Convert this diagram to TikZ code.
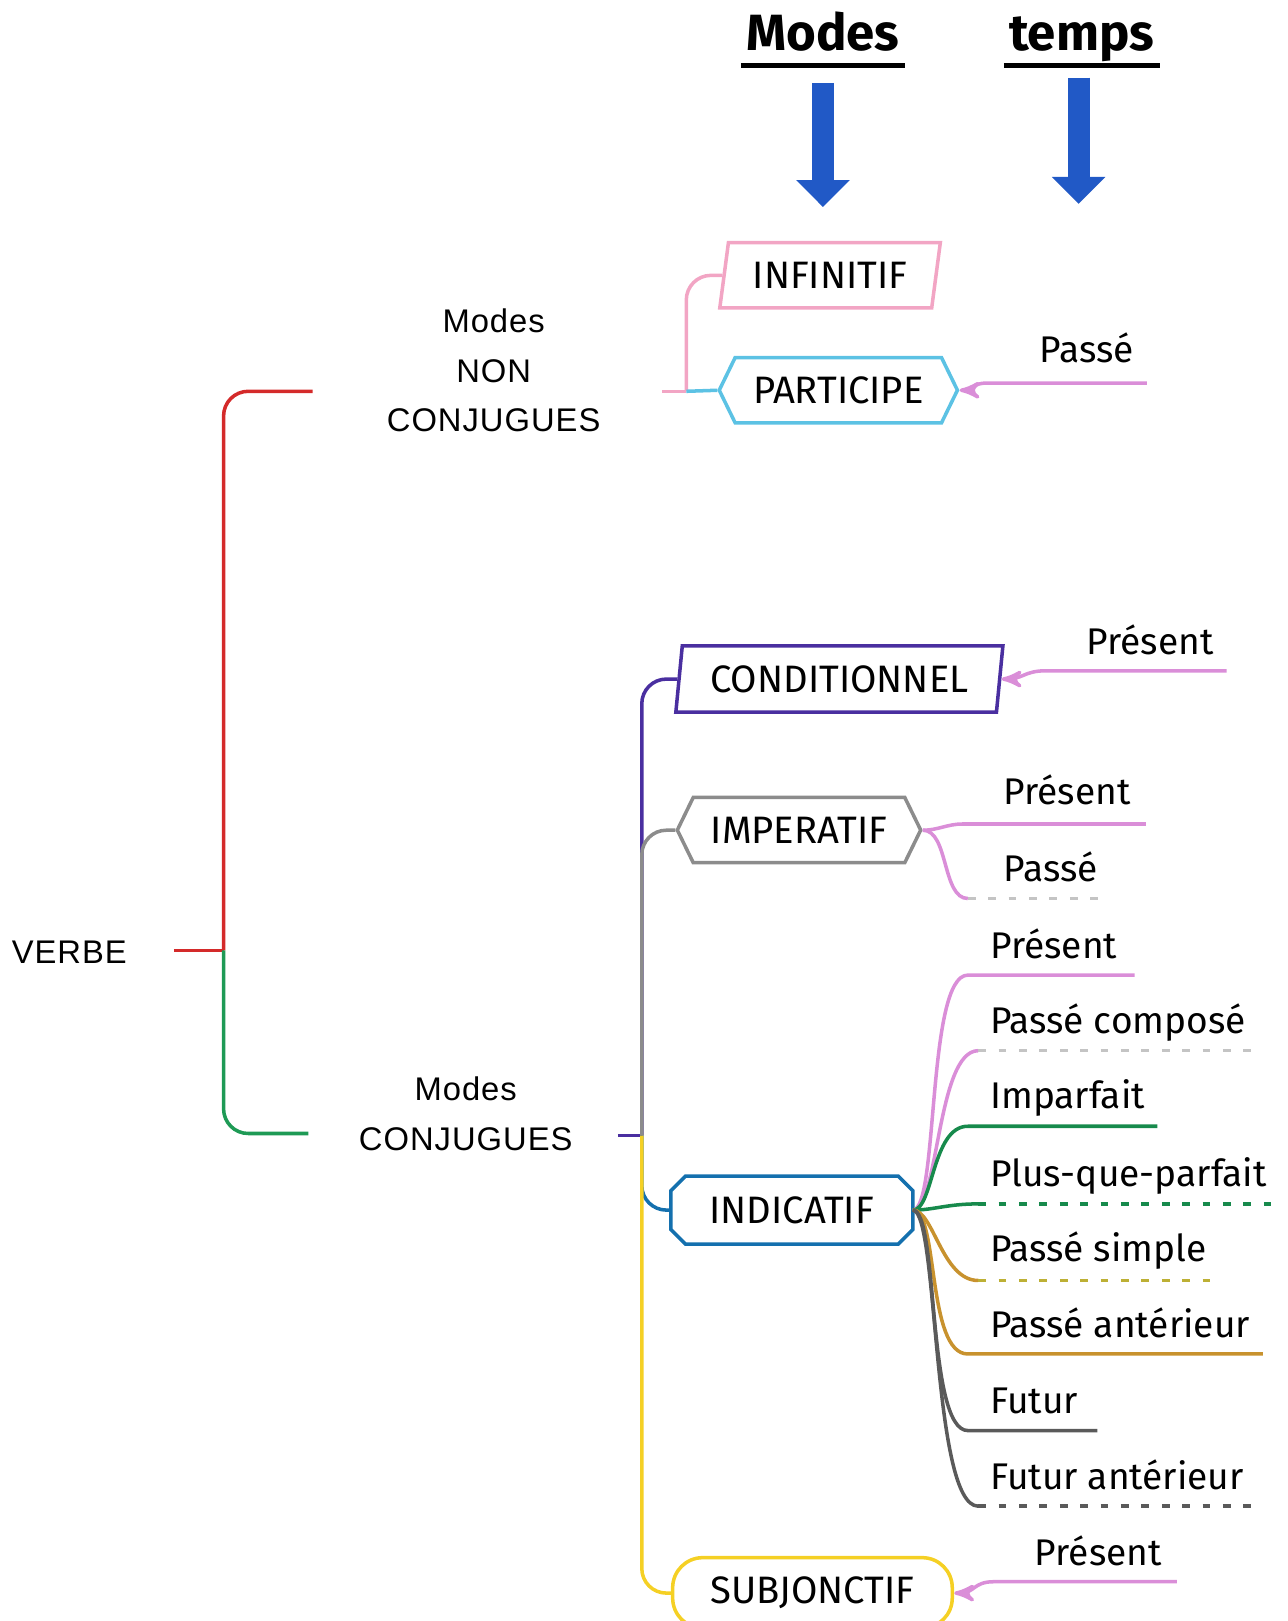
\documentclass[tikz,border=0pt]{standalone}
\usepackage{fontspec}
\setmainfont{Fira Sans}
\newfontfamily\arialfont[LetterSpace=3]{Liberation Sans}
\usetikzlibrary{positioning,shapes,arrows,arrows.meta,calc}

\definecolor{rouge}{HTML}{D42A2A}
\definecolor{vert}{HTML}{1E9A55}
\definecolor{rose}{HTML}{F2A5C4}
\definecolor{ciel}{HTML}{5CC2E4}
\definecolor{violet}{HTML}{4A2FA0}
\definecolor{gris}{HTML}{8C8C8C}
\definecolor{bleu}{HTML}{1470AE}
\definecolor{jaune}{HTML}{F5D024}
\definecolor{mauve}{HTML}{DA8ED8}
\definecolor{vertf}{HTML}{178A4C}
\definecolor{dore}{HTML}{C8922E}
\definecolor{olive}{HTML}{BDB035}
\definecolor{grisf}{HTML}{5A5A5A}
\definecolor{grisc}{HTML}{C4C4C4}
\definecolor{bleuf}{HTML}{2159C6}

\begin{document}
\begin{tikzpicture}[x=0.01cm,y=-0.01cm,scale=1.035,transform shape,>=stealth',line width=1pt,
    mode/.style={draw,fill=white,inner sep=0pt,minimum height=0.63cm,font=\fontsize{10.5}{12}\selectfont},
    para/.style={mode,trapezium,trapezium stretches=true},
    hexa/.style={mode,signal,signal to=west and east,signal pointer angle=128},
    tps/.style={anchor=base west,inner sep=0pt,font=\fontsize{10.2}{12}\selectfont},
    bloc/.style={align=center,inner sep=0pt,font=\arialfont\fontsize{9}{13.6}\selectfont},
    titre/.style={anchor=base,inner sep=1pt,font=\bfseries\fontsize{14}{16}\selectfont},
    grosse/.style={draw=bleuf,line width=0.22cm,-{Triangle[length=0.27cm,width=0.52cm]}},
    pointille/.style={dash pattern=on 2.2pt off 3.6pt},
    arrondi/.style={rounded corners=7pt}
  ]
  \useasboundingbox (0,0) rectangle (1243.5,1566.2);

  % titres
  \node[titre] (tm) at (795,49) {Modes};
  \node[titre] (tt) at (1045,49) {temps};
  \draw[line width=1.4pt] ([yshift=-4pt]tm.base west) -- ([yshift=-4pt]tm.base east);
  \draw[line width=1.4pt] ([yshift=-4pt]tt.base west) -- ([yshift=-4pt]tt.base east);
  \coordinate (fm1) at (795,80);
  \coordinate (fm2) at (795,200);
  \coordinate (ft1) at (1042,75);
  \coordinate (ft2) at (1042,197);
  \path (fm1) edge[grosse] (fm2)
        (ft1) edge[grosse] (ft2);

  % verbe
  \node[bloc] (verbe) at (67,920) {VERBE};
  \node[bloc] (nonconj) at (477,358) {Modes\\NON\\CONJUGUES};
  \node[bloc] (conj) at (450,1076) {Modes\\CONJUGUES};
  \coordinate (v0) at (168,918);
  \coordinate (vj) at (216,918);
  \coordinate (v1) at (302,378);
  \coordinate (v2) at (298,1095);
  \draw[rouge] (v0) -- (vj);
  \draw[rouge,arrondi] (vj) |- (v1);
  \draw[vert,arrondi] (vj) |- (v2);

  % modes non conjugues
  \node[para,draw=rose,trapezium left angle=76,trapezium right angle=104,minimum width=2.13cm] (inf) at (802,266) {INFINITIF};
  \node[hexa,draw=ciel,minimum width=2.3cm] (part) at (810,377) {PARTICIPE};
  \coordinate (nc) at (640,378);
  \coordinate (nj) at (663,378);
  \draw[rose] (nc) -- (nj);
  \draw[rose,arrondi] (nj) |- (inf.west);
  \draw[ciel] (nj) -- (part.west);

  % modes conjugues
  \node[para,draw=violet,trapezium left angle=79,trapezium right angle=101,minimum width=3.17cm,minimum height=0.64cm] (cond) at (811,656) {CONDITIONNEL};
  \node[hexa,draw=gris,minimum width=2.35cm] (imp) at (772,802) {IMPERATIF};
  \node[mode,draw=none,minimum width=2.3cm,minimum height=0.62cm] (ind) at (765,1169) {INDICATIF};
  \draw[bleu] ($(ind.north west)+(14,0)$) -- ($(ind.north east)+(-14,0)$) -- ($(ind.north east)+(0,14)$)
    -- ($(ind.south east)+(0,-14)$) -- ($(ind.south east)+(-14,0)$) -- ($(ind.south west)+(14,0)$)
    -- ($(ind.south west)+(0,-14)$) -- ($(ind.north west)+(0,14)$) -- cycle;
  \node[mode,rectangle,rounded corners=0.3cm,draw=jaune,minimum width=2.7cm,minimum height=0.68cm] (subj) at (785,1539) {SUBJONCTIF};
  \coordinate (mc) at (597,1097);
  \coordinate (mj) at (620,1097);
  \draw[violet] (mc) -- (mj);
  \draw[violet,arrondi] (mj) |- (cond.west);
  \draw[gris,arrondi] (mj) |- (imp.west);
  \draw[bleu,arrondi] (mj) |- (ind.west);
  \draw[jaune,arrondi] (mj) |- (subj.west);

  % temps du participe
  \node[tps] (pa) at (1003,350) {Passé};
  \coordinate (pa1) at (955,370);
  \coordinate (pa2) at (1108,370);
  \draw[mauve,<-] (part.east) .. controls +(20,0) and +(-20,0) .. (pa1) -- (pa2);

  % temps du conditionnel
  \node[tps] (co) at (1048,632) {Présent};
  \coordinate (co1) at (1010,648);
  \coordinate (co2) at (1185,648);
  \draw[mauve,<-] (cond.east) .. controls +(20,0) and +(-20,0) .. (co1) -- (co2);

  % temps de l'imperatif
  \node[tps] (ip) at (968,777) {Présent};
  \coordinate (ip1) at (930,796);
  \coordinate (ip2) at (1107,796);
  \draw[mauve] (imp.east) .. controls +(15,0) and +(-15,0) .. (ip1) -- (ip2);
  \node[tps] (is) at (968,852) {Passé};
  \coordinate (is1) at (935,868);
  \coordinate (is2) at (1065,868);
  \draw[mauve] (imp.east) .. controls +(25,0) and +(-25,0) .. (is1);
  \draw[grisc,pointille] (is1) -- (is2);

  % temps de l'indicatif
  \node[tps] (t1) at (955,926) {Présent};
  \coordinate (t1a) at (935,942);
  \coordinate (t1b) at (1096,942);
  \draw[mauve] (ind.east) .. controls +(25,0) and +(-40,0) .. (t1a) -- (t1b);
  \node[tps] (t2) at (955,999) {Passé composé};
  \coordinate (t2a) at (945,1015);
  \coordinate (t2b) at (1220,1015);
  \draw[mauve] (ind.east) .. controls +(25,0) and +(-40,0) .. (t2a);
  \draw[grisc,pointille] (t2a) -- (t2b);
  \node[tps] (t3) at (955,1071) {Imparfait};
  \coordinate (t3a) at (935,1088);
  \coordinate (t3b) at (1118,1088);
  \draw[vertf] (ind.east) .. controls +(20,0) and +(-35,0) .. (t3a) -- (t3b);
  \node[tps] (t4) at (955,1146) {Plus-que-parfait};
  \coordinate (t4a) at (945,1163);
  \coordinate (t4b) at (1240,1163);
  \draw[vertf] (ind.east) .. controls +(20,0) and +(-30,0) .. (t4a);
  \draw[vertf,pointille] (t4a) -- (t4b);
  \node[tps] (t5) at (955,1219) {Passé simple};
  \coordinate (t5a) at (945,1237);
  \coordinate (t5b) at (1180,1237);
  \draw[dore] (ind.east) .. controls +(20,0) and +(-35,0) .. (t5a);
  \draw[olive,pointille] (t5a) -- (t5b);
  \node[tps] (t6) at (955,1292) {Passé antérieur};
  \coordinate (t6a) at (935,1308);
  \coordinate (t6b) at (1220,1308);
  \draw[dore] (ind.east) .. controls +(25,0) and +(-40,0) .. (t6a) -- (t6b);
  \node[tps] (t7) at (955,1366) {Futur};
  \coordinate (t7a) at (935,1382);
  \coordinate (t7b) at (1060,1382);
  \draw[grisf] (ind.east) .. controls +(25,0) and +(-40,0) .. (t7a) -- (t7b);
  \node[tps] (t8) at (955,1439) {Futur antérieur};
  \coordinate (t8a) at (945,1455);
  \coordinate (t8b) at (1220,1455);
  \draw[grisf] (ind.east) .. controls +(25,0) and +(-45,0) .. (t8a);
  \draw[grisf,pointille] (t8a) -- (t8b);

  % temps du subjonctif
  \node[tps] (su) at (998,1513) {Présent};
  \coordinate (su1) at (960,1528);
  \coordinate (su2) at (1137,1528);
  \draw[mauve,<-] (subj.east) .. controls +(20,0) and +(-20,0) .. (su1) -- (su2);
\end{tikzpicture}
\end{document}
